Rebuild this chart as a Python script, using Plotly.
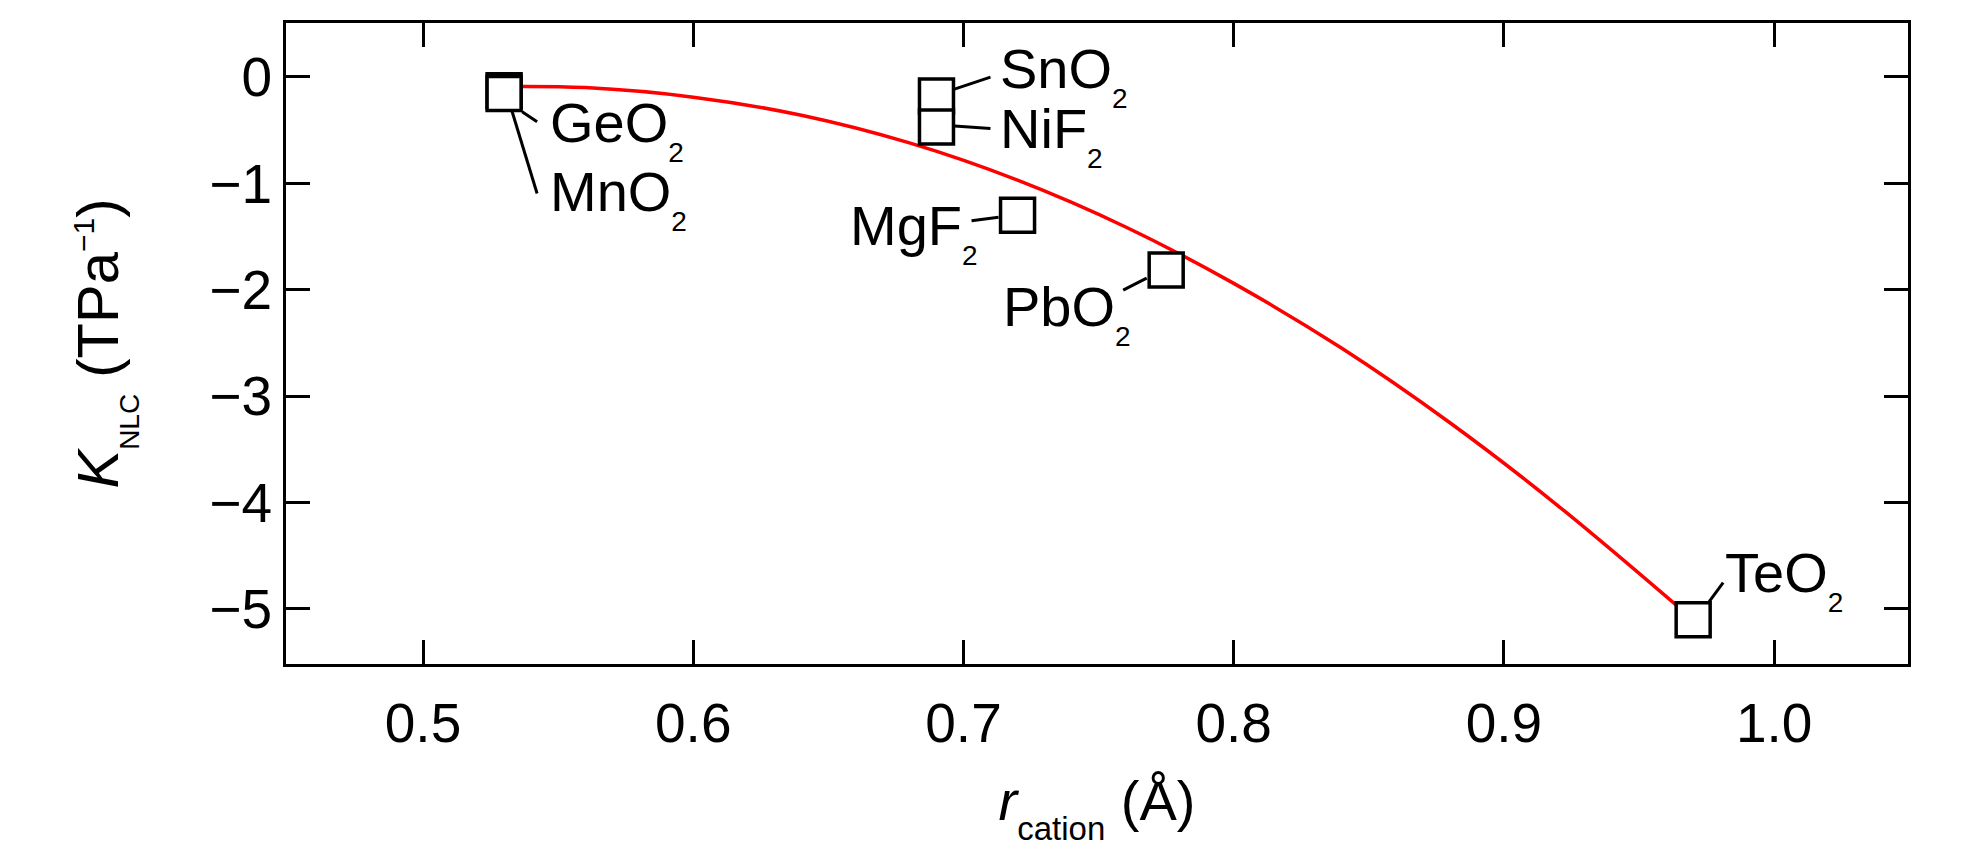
import plotly.graph_objects as go

# ---- data ----
materials = ["GeO2", "MnO2", "SnO2", "NiF2", "MgF2", "PbO2", "TeO2"]
r_cation = [0.53, 0.53, 0.69, 0.69, 0.72, 0.775, 0.97]
k_nlc = [-0.13, -0.155, -0.18, -0.47, -1.30, -1.815, -5.10]

# fitted curve
fit_r = [0.53, 0.56, 0.60, 0.64, 0.68, 0.72, 0.76, 0.80, 0.84, 0.88, 0.92, 0.97]
fit_k = [-0.09, -0.10, -0.19, -0.36, -0.62, -0.97, -1.41, -1.94, -2.55, -3.25, -4.03, -5.10]

x_ticks = [0.5, 0.6, 0.7, 0.8, 0.9, 1.0]
y_ticks = [0, -1, -2, -3, -4, -5]

FONT = "Liberation Sans, Arial, Helvetica, sans-serif"
FS = 56

def sub(t, size):
    return "<sub><sub><span style='font-size:%dpx'>%s</span></sub></sub>" % (size, t)

labels = {m: m[:-1] + sub("2", 28) for m in materials}
# label placement (pixel offsets from the point): anchor, dx, dy(baseline, down+), leader line
place = {
    "GeO2": ("left", 44, 55, (18, 21, 33, 31)),
    "MnO2": ("left", 44, 121, (8, 18, 33, 100)),
    "SnO2": ("left", 62, -5, (18, -7, 54, -19)),
    "NiF2": ("left", 62, 25, (18, -1, 54, 1.5)),
    "MgF2": ("right", -38, 33, (-46, 5.5, -19, 2)),
    "PbO2": ("right", -33, 59, (-43, 20, -19.5, 8)),
    "TeO2": ("left", 30, -24, (16, -18, 30, -37)),
}

fig = go.Figure()
fig.add_trace(go.Scatter(x=fit_r, y=fit_k, mode="lines", line=dict(color="#ff0000", width=3.5, shape="spline"),
                         hoverinfo="skip", showlegend=False))
fig.add_trace(go.Scatter(x=r_cation, y=k_nlc, mode="markers", text=materials,
                         marker=dict(symbol="square", size=34, color="white", line=dict(color="black", width=3.5)),
                         showlegend=False))

annotations = []
shapes = []
for m, rx, ky in zip(materials, r_cation, k_nlc):
    anc, dx, dy, (lx0, ly0, lx1, ly1) = place[m]
    annotations.append(dict(x=rx, y=ky, xref="x", yref="y", text=labels[m], showarrow=False,
                            xanchor=anc, yanchor="middle", xshift=dx, yshift=-(dy - 16),
                            font=dict(family=FONT, size=FS, color="black")))
    shapes.append(dict(type="line", xref="x", yref="y", xsizemode="pixel", ysizemode="pixel",
                       xanchor=rx, yanchor=ky, x0=lx0, x1=lx1, y0=-ly0, y1=-ly1,
                       line=dict(color="black", width=3)))

fig.update_layout(
    width=1945, height=840,
    margin=dict(l=278, r=45, t=15, b=184),
    paper_bgcolor="white", plot_bgcolor="white",
    font=dict(family=FONT, size=FS, color="black"),
    annotations=annotations, shapes=shapes,
    xaxis=dict(range=[0.4493, 1.0495], tickvals=x_ticks, tickformat=".1f",
               showline=True, linewidth=3, linecolor="black", mirror="ticks",
               ticks="inside", ticklen=24, tickwidth=3, tickcolor="black",
               showgrid=False, zeroline=False, ticklabelstandoff=9,
               tickfont=dict(family=FONT, size=55),
               title=dict(text="<i>r</i>" + sub("cation", 33) + " (Å)", font=dict(family=FONT, size=56), standoff=28)),
    yaxis=dict(range=[-5.517, 0.507], tickvals=y_ticks,
               showline=True, linewidth=3, linecolor="black", mirror="ticks",
               ticks="inside", ticklen=24, tickwidth=3, tickcolor="black",
               showgrid=False, zeroline=False,
               tickfont=dict(family=FONT, size=55),
               title=dict(text="<i>K</i>" + sub("NLC", 28) + " (TPa<sup><span style='font-size:30px'>−1</span></sup>)",
                          font=dict(family=FONT, size=58), standoff=72)),
)

fig.write_html("out.html")
